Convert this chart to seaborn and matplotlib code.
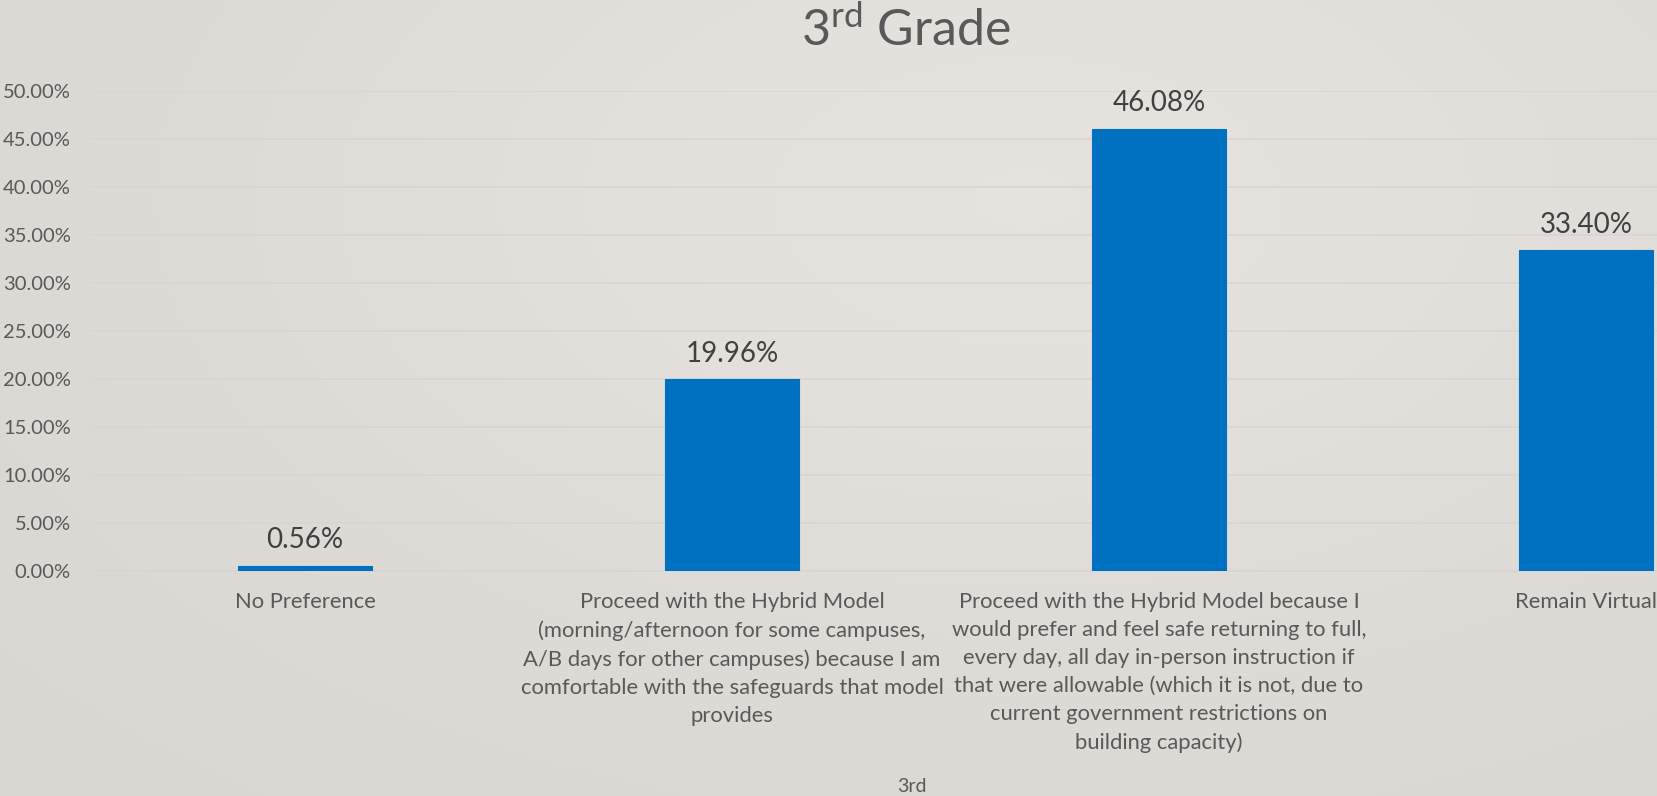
import numpy as np
import pandas as pd
import matplotlib
matplotlib.use("Agg")
import matplotlib.pyplot as plt
import seaborn as sns

# Survey responses for 3rd grade (share of respondents, %)
categories = [
    "No Preference",
    "Proceed with the Hybrid Model\n(morning/afternoon for some campuses,\n"
    "A/B days for other campuses) because I am\ncomfortable with the safeguards that model\nprovides",
    "Proceed with the Hybrid Model because I\nwould prefer and feel safe returning to full,\n"
    "every day, all day in-person instruction if\nthat were allowable (which it is not, due to\n"
    "current government restrictions on\nbuilding capacity)",
    "Remain Virtual",
]
values = [0.56, 19.96, 46.08, 33.40]
y_ticks = [0, 5, 10, 15, 20, 25, 30, 35, 40, 45, 50]
y_tick_labels = [f"{v:.2f}%" for v in y_ticks]

df = pd.DataFrame({"response": categories, "pct": values})

sns.set_theme(style="white")
plt.rcParams["font.family"] = ["Lato", "DejaVu Sans"]
plt.rcParams["mathtext.fontset"] = "custom"
plt.rcParams["mathtext.rm"] = "Lato"

BG = "#DFDCD7"
BAR = "#0070C0"
TXT = "#595959"
GRID = "#D5D5D9"

fig = plt.figure(figsize=(16.58, 7.96), dpi=100, facecolor=BG)

# soft slide-style background shading
bg_ax = fig.add_axes([0, 0, 1, 1], zorder=-10)
yy, xx = np.mgrid[0:1:200j, 0:1:400j]
shade = 0.55 * np.exp(-((xx - 0.62) ** 2 / 0.25 + (yy - 0.25) ** 2 / 0.35))
bg_ax.imshow(shade, cmap=matplotlib.colors.LinearSegmentedColormap.from_list(
    "bgc", ["#DAD7D2", "#E6E3DF"]), vmin=0, vmax=0.55, aspect="auto",
    extent=[0, 1, 0, 1], origin="upper")
bg_ax.axis("off")

ax = fig.add_axes([91.5 / 1658, (796 - 571) / 796, 1708 / 1658, (571 - 91) / 796])
ax.set_facecolor("none")

sns.barplot(data=df, x="response", y="pct", color=BAR, width=0.314,
            saturation=1, edgecolor=BAR, linewidth=0.8, ax=ax, zorder=3)

ax.set_ylim(0, 50)
ax.set_xlim(-0.5, len(categories) - 0.5)
ax.set_yticks(y_ticks)
ax.set_yticklabels(y_tick_labels)
ax.yaxis.grid(True, color=GRID, linewidth=1.2, zorder=0)
ax.xaxis.grid(False)
for s in ["top", "right", "left"]:
    ax.spines[s].set_visible(False)
ax.spines["bottom"].set_color(GRID)
ax.spines["bottom"].set_linewidth(1.2)

ax.tick_params(axis="y", length=0, pad=15, labelsize=14.5, labelcolor=TXT)
ax.tick_params(axis="x", length=0, pad=15, labelsize=15.8, labelcolor=TXT)
for lbl in ax.get_xticklabels():
    lbl.set_linespacing(1.5)
    lbl.set_horizontalalignment("center")

for i, v in enumerate(values):
    ax.annotate(f"{v:.2f}%", (i, v), xytext=(0, 9), textcoords="offset points",
                ha="center", va="bottom", fontsize=20, color="#404040")

ax.set_ylabel("")
ax.set_xlabel("")
fig.text(912 / 1658, 1 - 786 / 796, "3rd", ha="center", va="center",
         fontsize=14, color=TXT)

fig.text(906 / 1658, 1 - 30 / 796, r"3$^{\mathrm{rd}}$ Grade", ha="center",
         va="center", fontsize=36, color=TXT)

fig.savefig("out.png", dpi=100, facecolor=BG)
